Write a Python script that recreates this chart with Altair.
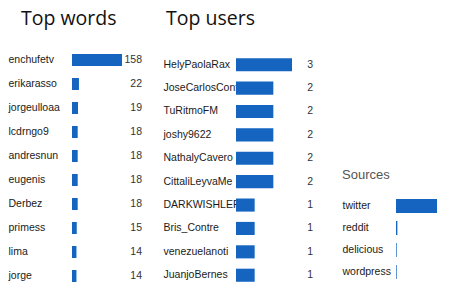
import altair as alt
import pandas as pd

# ---- data ----
word_labels = ["enchufetv", "erikarasso", "jorgeulloaa", "lcdrngo9", "andresnun",
               "eugenis", "Derbez", "primess", "lima", "jorge"]
word_counts = [158, 22, 19, 18, 18, 18, 18, 15, 14, 14]

user_labels = ["HelyPaolaRax", "JoseCarlosConf", "TuRitmoFM", "joshy9622", "NathalyCavero",
               "CittaliLeyvaMe", "DARKWISHLERS", "Bris_Contre", "venezuelanoti", "JuanjoBernes"]
user_counts = [3, 2, 2, 2, 2, 2, 1, 1, 1, 1]

source_labels = ["twitter", "reddit", "delicious", "wordpress"]
source_counts = [60, 2, 1, 1]

BLUE = "#1565C0"
LABEL_FONT = "Liberation Sans"
TITLE_FONT = "Open Sans"


def panel(labels, counts, title, width, height, label_pad, pad_inner, pad_outer, align,
          dmax, title_dx, title_offset, text_x=None, title_font=TITLE_FONT, title_size=19.5,
          title_color="#111111"):
    df = pd.DataFrame({"cat": labels, "val": counts})
    base = alt.Chart(df).encode(
        y=alt.Y("cat:N", sort=None,
                scale=alt.Scale(paddingInner=pad_inner, paddingOuter=pad_outer, align=align),
                axis=alt.Axis(title=None, labelAlign="left", labelPadding=label_pad,
                              domain=False, ticks=False, grid=False, labelFont=LABEL_FONT,
                              labelFontSize=10.5, labelColor="#1a1a1a", labelLimit=300))
    )
    bars = base.mark_bar(color=BLUE).encode(
        x=alt.X("val:Q", axis=None, scale=alt.Scale(domain=[0, dmax], nice=False))
    )
    layers = [bars]
    if text_x is not None:
        txt = base.mark_text(align="right", baseline="middle", font=LABEL_FONT,
                             fontSize=10.5, color="#333333").encode(
            x=alt.value(text_x), text="val:Q")
        layers.append(txt)
    return alt.layer(*layers).properties(
        width=width, height=height,
        title=alt.TitleParams(title, anchor="start", frame="bounds", dx=title_dx,
                              offset=title_offset, baseline="bottom", font=title_font,
                              fontSize=title_size, fontWeight="normal", color=title_color),
    )


p1 = panel(word_labels, word_counts, "Top words", 50, 240, 64, 0.5, 0.25, 0.5,
           158, 13, 0, text_x=70)
p2 = panel(user_labels, user_counts, "Top users", 56, 240, 73, 0.44, 0.35, 0.62,
           3, 3, 0, text_x=77)
p3 = panel(source_labels, source_counts, "Sources", 41, 88, 54, 0.36, 0.18, 0.5,
           60, 0, 0, title_font=LABEL_FONT, title_size=13, title_color="#555555")

spacer = alt.Chart(pd.DataFrame({"a": [0]})).mark_point(opacity=0).encode(
    x=alt.X("a:Q", axis=None), y=alt.Y("a:Q", axis=None)
).properties(width=1, height=121)

right = alt.vconcat(spacer, p3, spacing=0)
left = alt.hconcat(p1, p2, spacing=21)
chart = alt.hconcat(left, right, spacing=29).properties(
    padding={"left": 0, "top": 0, "right": 0, "bottom": 0},
    background="white",
).configure_view(strokeWidth=0, stroke=None)

chart.save("out.html", embed_options={"renderer": "svg", "actions": False})
